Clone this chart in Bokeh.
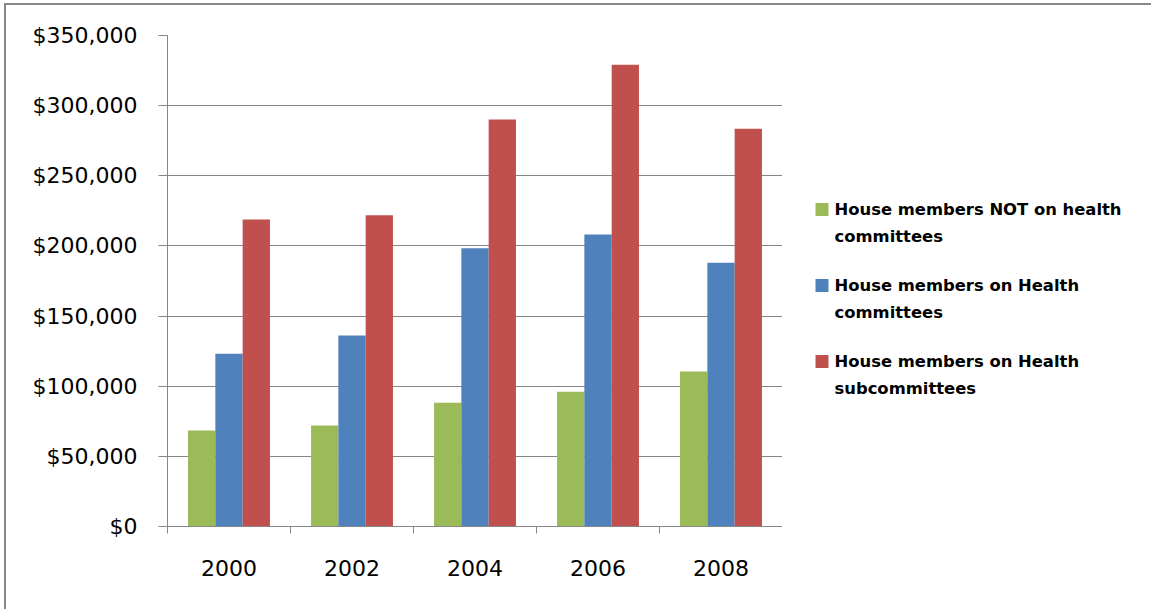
import numpy as np
from bokeh.plotting import figure
from bokeh.layouts import row
from bokeh.core.properties import value
from bokeh.models import (ColumnDataSource, FixedTicker, NumeralTickFormatter,
                          Range1d)
from bokeh.transform import dodge
from bokeh.embed import file_html
from bokeh.resources import INLINE

# Average contributions per member, by election cycle
years = ["2000", "2002", "2004", "2006", "2008"]
not_on_health = [68400, 72000, 88300, 96100, 110500]
on_health_committees = [123200, 136200, 198300, 208200, 188000]
on_health_subcommittees = [218800, 221800, 290200, 329200, 283500]
y_ticks = [0, 50000, 100000, 150000, 200000, 250000, 300000, 350000]

series_names = [
    "House members NOT on health\ncommittees",
    "House members on Health\ncommittees",
    "House members on Health\nsubcommittees",
]
colors = ["#9BBB59", "#4F81BD", "#C0504D"]

pos = np.arange(len(years)) + 0.5
source = ColumnDataSource(dict(
    x=pos,
    g=not_on_health,
    b=on_health_committees,
    r=on_health_subcommittees,
))

FONT = "DejaVu Sans"
GRID = "#868686"
TOTAL_W, TOTAL_H = 1145, 604
PLOT_W = 776
BORDER_TOP, BORDER_BOTTOM = 30, 83

p = figure(
    width=PLOT_W, height=TOTAL_H,
    x_range=Range1d(0, len(years)), y_range=Range1d(0, 350000),
    output_backend="svg", toolbar_location=None,
    min_border_left=161, min_border_right=0,
    min_border_top=BORDER_TOP, min_border_bottom=BORDER_BOTTOM,
)
p.outline_line_color = None
p.background_fill_color = "white"

bar_w = 0.222
offsets = [-0.222, 0.0, 0.222]
fields = ["g", "b", "r"]
for f, off, c in zip(fields, offsets, colors):
    p.vbar(x=dodge("x", off), top=f, width=bar_w, bottom=0,
           source=source, fill_color=c, line_color=None)

# y axis
p.yaxis.ticker = FixedTicker(ticks=y_ticks)
p.yaxis.formatter = NumeralTickFormatter(format="$0,0")
p.yaxis.axis_line_color = GRID
p.yaxis.major_tick_line_color = GRID
p.yaxis.major_tick_out = 9
p.yaxis.major_tick_in = 0
p.yaxis.minor_tick_line_color = None
p.yaxis.major_label_standoff = 21
p.yaxis.major_label_text_font = FONT
p.yaxis.major_label_text_font_size = "22px"
p.yaxis.major_label_text_color = "#000000"

# x axis: labels at category centres, ticks at category boundaries
p.xaxis.ticker = FixedTicker(ticks=list(pos),
                             minor_ticks=list(range(len(years) + 1)))
p.xaxis.major_label_overrides = {float(v): y for v, y in zip(pos, years)}
p.xaxis.axis_line_color = GRID
p.xaxis.major_tick_line_color = None
p.xaxis.major_tick_out = 0
p.xaxis.major_tick_in = 0
p.xaxis.minor_tick_line_color = GRID
p.xaxis.minor_tick_out = 7
p.xaxis.minor_tick_in = 0
p.xaxis.major_label_standoff = 26
p.xaxis.major_label_text_font = FONT
p.xaxis.major_label_text_font_size = "22px"
p.xaxis.major_label_text_color = "#000000"

p.xgrid.grid_line_color = None
p.ygrid.ticker = FixedTicker(ticks=y_ticks)
p.ygrid.grid_line_color = GRID
p.ygrid.grid_line_width = 1

# Legend panel, in pixel units (y grows downward); its frame shares the
# vertical extent of the chart frame, so the range spans that same band
LEG_W = TOTAL_W - PLOT_W
lp = figure(
    width=LEG_W, height=TOTAL_H,
    x_range=Range1d(0, LEG_W),
    y_range=Range1d(TOTAL_H - BORDER_BOTTOM, BORDER_TOP),
    output_backend="svg", toolbar_location=None,
    x_axis_location=None, y_axis_location=None,
    min_border_left=0, min_border_right=0,
    min_border_top=BORDER_TOP, min_border_bottom=BORDER_BOTTOM,
)
lp.outline_line_color = None
lp.xgrid.grid_line_color = None
lp.ygrid.grid_line_color = None

sw_x, sw_size = 39.5, 13
text_x = 52
first_y, entry_step, line_step = 204, 76, 27

entry_y = [first_y + i * entry_step for i in range(len(series_names))]
lp.rect(x=[sw_x] * len(colors), y=entry_y, width=sw_size, height=sw_size,
        fill_color=colors, line_color=None)

line_txt, line_y = [], []
for y0, name in zip(entry_y, series_names):
    for k, part in enumerate(name.split("\n")):
        line_txt.append(part)
        line_y.append(y0 + k * line_step)
lp.text(x=[text_x] * len(line_txt), y=line_y, text=line_txt,
        text_font=value(FONT), text_font_size="16.4px",
        text_font_style="bold", text_color="#000000",
        text_baseline="middle", text_align="left")

layout = row(p, lp, styles={"border-left": "2px solid #878787",
                            "border-top": "2px solid #878787",
                            "margin": "3px 0 0 4px"})

open("out.html", "w").write(file_html(layout, INLINE))
